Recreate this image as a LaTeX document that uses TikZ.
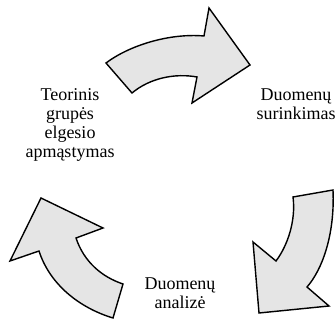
\documentclass[tikz,border=0pt]{standalone}
\usepackage{fontspec}
\setmainfont{Liberation Serif}
\begin{document}
\begin{tikzpicture}[x=1pt,y=-1pt,
  bigarrow/.style={draw=black,line width=1.4pt,fill=black!10,line join=miter},
  label/.style={align=center,inner sep=0pt,font=\fontsize{18}{18.7}\selectfont}]
\useasboundingbox (0,0) rectangle (335,320);
% top arrow
\draw[bigarrow] (106,63) .. controls (130,45) and (170,33) .. (204,36)
  -- (209,8) -- (250,65) -- (192,103) -- (197,77)
  .. controls (175,73) and (150,78) .. (132,93) -- cycle;
% right arrow
\draw[bigarrow] (293,197) -- (333,190)
  .. controls (335,235) and (322,270) .. (307,287)
  -- (329,306) -- (259,313) -- (253,242) -- (276,261)
  .. controls (288,245) and (296,220) .. (293,197) -- cycle;
% left arrow
\draw[bigarrow] (41,198) -- (103,228) -- (76,238)
  .. controls (84,262) and (102,277) .. (123,284)
  -- (113,318)
  .. controls (80,308) and (50,285) .. (39,251)
  -- (10,261) -- cycle;
\node[label] (theory) at (70,125) {Teorinis\\grupės\\elgesio\\apmąstymas};
\node[label] (collect) at (296,104) {Duomenų\\surinkimas};
\node[label] (analysis) at (180,293) {Duomenų\\analizė};
\end{tikzpicture}
\end{document}
